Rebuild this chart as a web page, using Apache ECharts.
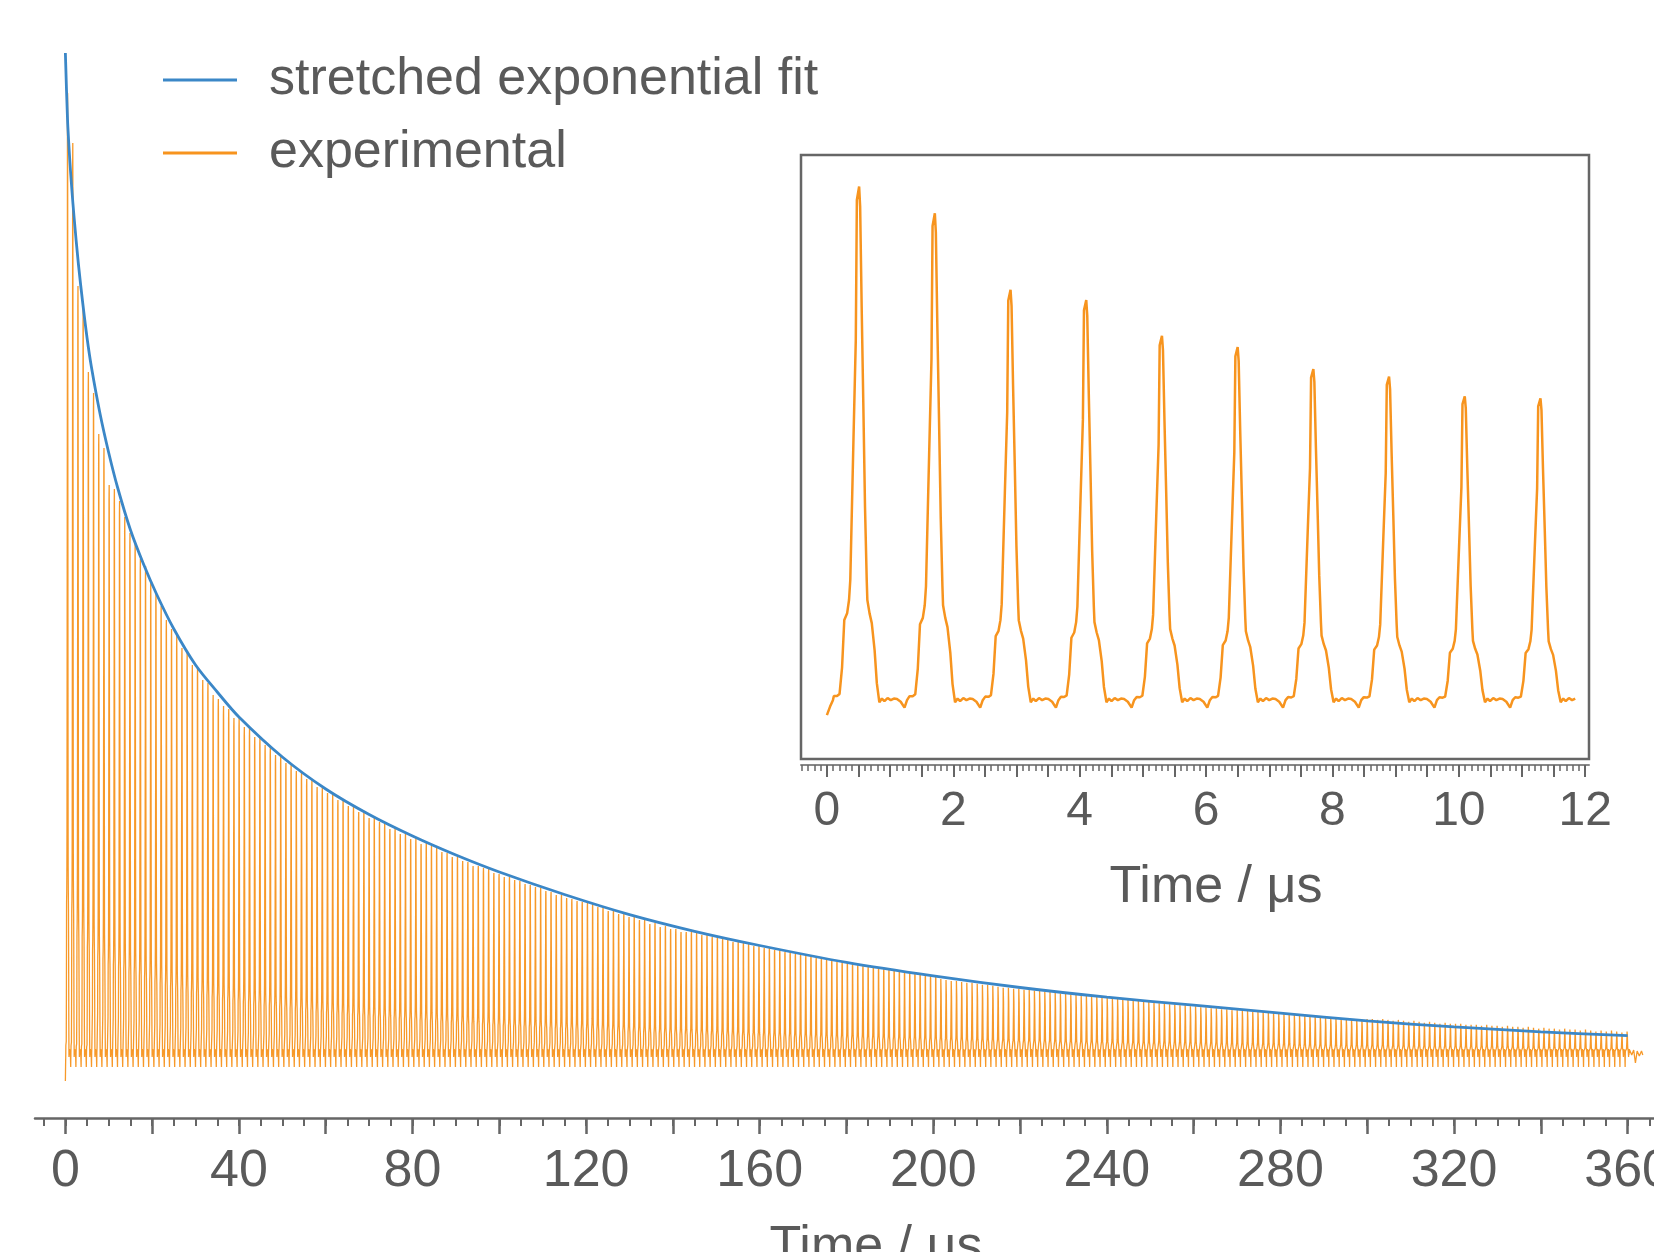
<!DOCTYPE html>
<html><head><meta charset="utf-8">
<script src="https://cdn.jsdelivr.net/npm/echarts@6/dist/echarts.min.js"></script>
<style>html,body{margin:0;padding:0;background:#fff}#c{width:1654px;height:1252px}</style>
</head><body><div id="c"></div>
<script>
// ---- stretched exponential fit ----
const fitTime  = [0, 0.5, 1, 1.5, 2, 3, 4, 5, 6, 8, 10, 12, 15, 18, 21, 25, 30, 35, 40, 50, 60, 70, 80, 90, 100, 115, 130, 145, 160, 180, 200, 220, 240, 260, 280, 300, 320, 340, 360];
const fitValue = [1.0, 0.933, 0.894, 0.863, 0.836, 0.789, 0.750, 0.715, 0.686, 0.639, 0.600, 0.566, 0.523, 0.489, 0.459, 0.424, 0.388, 0.361, 0.336, 0.296, 0.264, 0.2385, 0.217, 0.198, 0.181, 0.1585, 0.1384, 0.1217, 0.1075, 0.0906, 0.0771, 0.0655, 0.0558, 0.0478, 0.0398, 0.0321, 0.0261, 0.0212, 0.0173];

// ---- experimental pulse train ----
const firstPeakTime = 0.51;   // µs
const pulsePeriod = 1.198;    // µs
const peakHeights = [
 0.960,0.910,0.767,0.748,0.681,0.660,0.619,0.605,0.568,0.564,
 0.552,0.536,0.520,0.511,0.494,0.487,0.470,0.461,0.447,0.433,
 0.424,0.417,0.405,0.401,0.388,0.386,0.373,0.370,0.358,0.354,
 0.347,0.344,0.335,0.335,0.326,0.325,0.316,0.316,0.308,0.306,
 0.298,0.297,0.290,0.289,0.282,0.281,0.274,0.273,0.266,0.265,
 0.260,0.259,0.253,0.253,0.247,0.247,0.241,0.241,0.235,0.235,
 0.231,0.230,0.224,0.225,0.219,0.220,0.214,0.215,0.209,0.210,
 0.207,0.206,0.201,0.200,0.196,0.196,0.192,0.191,0.187,0.187,
 0.185,0.184,0.180,0.179,0.176,0.176,0.173,0.172,0.169,0.168,
 0.166,0.165,0.162,0.161,0.158,0.158,0.155,0.154,0.152,0.151,
 0.150,0.149,0.146,0.146,0.142,0.143,0.139,0.139,0.136,0.136,
 0.133,0.133,0.129,0.130,0.126,0.127,0.124,0.124,0.121,0.121,
 0.121,0.120,0.118,0.118,0.116,0.116,0.114,0.114,0.111,0.111,
 0.110,0.109,0.107,0.107,0.105,0.105,0.103,0.103,0.101,0.101,
 0.099,0.099,0.097,0.097,0.095,0.095,0.093,0.093,0.091,0.091,
 0.090,0.089,0.088,0.087,0.086,0.086,0.085,0.084,0.083,0.083,
 0.082,0.081,0.080,0.080,0.079,0.078,0.077,0.077,0.076,0.075,
 0.074,0.074,0.073,0.072,0.072,0.071,0.070,0.070,0.069,0.068,
 0.067,0.067,0.066,0.066,0.065,0.065,0.064,0.064,0.063,0.063,
 0.062,0.061,0.061,0.060,0.060,0.059,0.059,0.058,0.058,0.057,
 0.057,0.056,0.056,0.055,0.055,0.054,0.054,0.053,0.053,0.052,
 0.051,0.051,0.050,0.050,0.049,0.049,0.048,0.048,0.047,0.047,
 0.046,0.046,0.045,0.045,0.044,0.044,0.043,0.043,0.042,0.042,
 0.042,0.041,0.041,0.040,0.040,0.040,0.039,0.039,0.039,0.038,
 0.038,0.037,0.037,0.037,0.036,0.036,0.035,0.035,0.035,0.034,
 0.035,0.035,0.034,0.035,0.034,0.033,0.034,0.033,0.032,0.033,
 0.032,0.031,0.032,0.031,0.030,0.031,0.030,0.030,0.030,0.029,
 0.029,0.029,0.028,0.029,0.028,0.028,0.027,0.028,0.027,0.027,
 0.026,0.027,0.026,0.025,0.026,0.025,0.025,0.024,0.025,0.024,
 0.024,0.023,0.024,0.023,0.022,0.023,0.022,0.023,0.022,0.021,0.022
];
// one period of the pulse shape (time relative to peak, fraction of peak, floor jitter)
const shapeDt    = [-0.599,-0.54,-0.48,-0.44,-0.40,-0.35,-0.31,-0.27,-0.235,-0.19,-0.16,-0.14,-0.09,-0.053,-0.036,0,0.016,0.04,0.067,0.093,0.12,0.13,0.165,0.20,0.245,0.28,0.32,0.36,0.40,0.45,0.50,0.55];
const shapeFrac  = [0,0,0,0,0.006,0.008,0.012,0.064,0.156,0.169,0.195,0.234,0.506,0.701,0.974,1,0.961,0.766,0.571,0.376,0.234,0.195,0.169,0.150,0.097,0.033,0,0,0,0,0,0];
const floorNoise = [0.002,-0.003,-0.014,0,0.002,0,0,0,0,0,0,0,0,0,0,0,0,0,0,0,0,0,0,0,0,0,-0.004,0.003,-0.002,0.004,0,0.003];
const leadIn     = [[0,-0.028],[0.05,-0.012],[0.095,0]];
const tailPoints = [[360.95,-0.002],[361.4,0.003],[361.8,-0.010],[362.2,0.002],[362.7,-0.003],[363.2,0.002],[363.5,-0.002]];
const insetEndTime = 11.87;

// ---- axis ticks / labels ----
const mainLabelValues  = [0,40,80,120,160,200,240,280,320,360];
const insetLabelValues = [0,2,4,6,8,10,12];
const mainMajorTicks = [], mainMinorTicks = [], insetMajorTicks = [], insetMinorTicks = [];
for (let v = 0; v <= 360; v += 20) mainMajorTicks.push(v);
for (let v = -5; v <= 365; v += 5) mainMinorTicks.push(v);
for (let i = 0; i <= 24; i++) insetMajorTicks.push(i * 0.5);
for (let i = -4; i <= 120; i++) insetMinorTicks.push(Math.round(i) / 10);

// ---- build series data ----
const fitData = fitTime.map((t, i) => [t, fitValue[i]]);
const expData = leadIn.slice();
peakHeights.forEach((h, k) => {
  const tp = firstPeakTime + k * pulsePeriod;
  shapeDt.forEach((dt, j) => {
    const t = tp + dt;
    if (k === 0 && t < 0.1) return;
    expData.push([+t.toFixed(4), h * shapeFrac[j] + floorNoise[j]]);
  });
});
tailPoints.forEach(p => expData.push(p));
const insetData = expData.filter(p => p[0] <= insetEndTime);

const BLUE = '#3b87c7', ORANGE = '#f7941e', GRAY = '#5a5a5a', AX = '#666666';
const FONT = '"Liberation Sans", Arial, Helvetica, sans-serif';

const chart = echarts.init(document.getElementById('c'), null, {renderer: 'canvas'});
chart.setOption({
  animation: false,
  backgroundColor: '#fff',
  textStyle: {fontFamily: FONT},
  legend: {
    orient: 'vertical', left: 158, top: 45, itemWidth: 74, itemHeight: 3, itemGap: 13,
    selectedMode: false, icon: 'rect',
    data: [{name: 'stretched exponential fit', itemStyle: {color: BLUE}},
           {name: 'experimental', itemStyle: {color: ORANGE}}],
    textStyle: {fontSize: 52, color: GRAY, fontFamily: FONT, lineHeight: 60, padding: [0, 0, 0, 27]}
  },
  grid: [
    {left: 35, top: 53, width: 1636, height: 1065, outerBoundsMode: 'none', containLabel: false},
    {left: 801, top: 155, width: 788, height: 604, outerBoundsMode: 'none', containLabel: false,
     show: true, borderColor: AX, borderWidth: 2.5, backgroundColor: '#fff'}
  ],
  xAxis: [
    {gridIndex: 0, type: 'value', min: -7, max: 370, position: 'bottom',
     axisLine: {show: true, onZero: false, lineStyle: {color: AX, width: 2.5}},
     axisTick: {show: true, customValues: mainMajorTicks, length: 16, lineStyle: {color: AX, width: 2.5}},
     axisLabel: {customValues: mainLabelValues, fontSize: 52, color: GRAY, margin: 28, fontFamily: FONT},
     splitLine: {show: false},
     name: 'Time / μs', nameLocation: 'middle', nameGap: 104,
     nameTextStyle: {fontSize: 52, color: GRAY, fontFamily: FONT, padding: [0, 0, 0, 46]}},
    {gridIndex: 0, type: 'value', min: -7, max: 370, position: 'bottom',
     axisLine: {show: false, onZero: false},
     axisTick: {show: true, customValues: mainMinorTicks, length: 8, lineStyle: {color: AX, width: 2}},
     axisLabel: {show: false}, splitLine: {show: false}},
    {gridIndex: 1, type: 'value', min: -0.41, max: 12.06, position: 'bottom', offset: 6,
     axisLine: {show: true, onZero: false, lineStyle: {color: '#888', width: 2}},
     axisTick: {show: true, customValues: insetMajorTicks, length: 12, lineStyle: {color: AX, width: 2}},
     axisLabel: {customValues: insetLabelValues, fontSize: 48, color: GRAY, margin: 23, fontFamily: FONT},
     splitLine: {show: false},
     name: 'Time / μs', nameLocation: 'middle', nameGap: 97,
     nameTextStyle: {fontSize: 52, color: GRAY, fontFamily: FONT, padding: [0, 0, 0, 42]}},
    {gridIndex: 1, type: 'value', min: -0.41, max: 12.06, position: 'bottom', offset: 6,
     axisLine: {show: false, onZero: false},
     axisTick: {show: true, customValues: insetMinorTicks, length: 6, lineStyle: {color: AX, width: 1.5}},
     axisLabel: {show: false}, splitLine: {show: false}}
  ],
  yAxis: [
    {gridIndex: 0, type: 'value', min: -0.065, max: 1.0, show: false, splitLine: {show: false}},
    {gridIndex: 1, type: 'value', min: -0.110, max: 1.019, show: false, splitLine: {show: false}}
  ],
  series: [
    {name: 'stretched exponential fit', type: 'line', xAxisIndex: 0, yAxisIndex: 0, data: fitData,
     smooth: 0.3, symbol: 'none', showSymbol: false, z: 4,
     lineStyle: {color: BLUE, width: 2.8}, itemStyle: {color: BLUE}},
    {name: 'experimental', type: 'line', xAxisIndex: 0, yAxisIndex: 0, data: expData,
     symbol: 'none', showSymbol: false, z: 3,
     lineStyle: {color: ORANGE, width: 1.3, opacity: 0.95}, itemStyle: {color: ORANGE}},
    {name: 'experimental', type: 'line', xAxisIndex: 2, yAxisIndex: 1, data: insetData,
     symbol: 'none', showSymbol: false, z: 5,
     lineStyle: {color: ORANGE, width: 2.5}, itemStyle: {color: ORANGE}}
  ]
});
</script></body></html>
